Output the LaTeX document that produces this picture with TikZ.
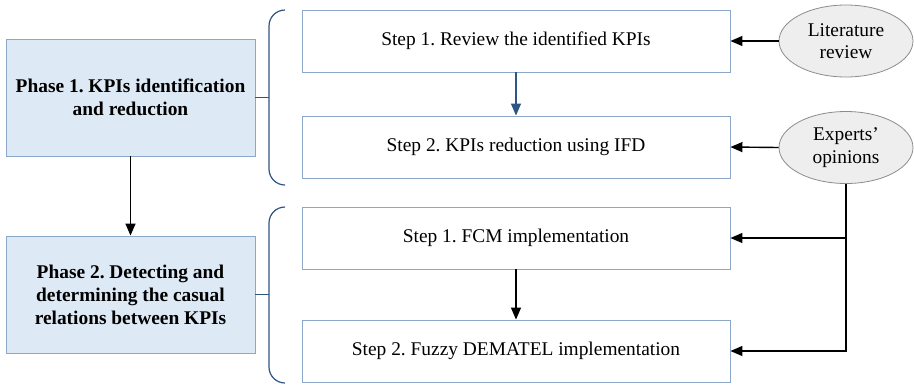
\documentclass[tikz,border=0pt]{standalone}
\usepackage{fontspec}
\setmainfont{Liberation Serif}
\usetikzlibrary{shapes.geometric,arrows.meta}
\definecolor{phasefill}{RGB}{222,233,246}
\definecolor{boxedge}{RGB}{140,168,200}
\definecolor{bracecol}{RGB}{47,85,130}
\definecolor{ellfill}{RGB}{238,238,238}
\definecolor{elledge}{RGB}{140,140,140}
\tikzset{
  phasebox/.style={draw=boxedge, fill=phasefill, line width=0.9pt, minimum width=249pt, minimum height=117pt, inner sep=0pt, align=center, font=\fontsize{19.4}{23}\selectfont\bfseries},
  stepbox/.style={draw=boxedge, fill=white, line width=0.9pt, minimum width=428pt, minimum height=62pt, inner sep=0pt, align=center, font=\fontsize{19.4}{23}\selectfont},
  srcell/.style={ellipse, draw=elledge, fill=ellfill, line width=0.8pt, minimum width=134pt, minimum height=72pt, inner sep=0pt, align=center, font=\fontsize{19.4}{22.5}\selectfont},
  conn/.style={line width=1.4pt, -{Triangle[length=12pt,width=10pt]}},
  bracepath/.style={draw=bracecol, line width=1.2pt, rounded corners=16pt},
}
\begin{document}
\frenchspacing
\begin{tikzpicture}[x=1pt,y=-1pt]
\useasboundingbox (0,0) rectangle (914,384);
\node[phasebox] (p1) at (130.5,97.5) {Phase 1. KPIs identification\\and reduction};
\node[phasebox] (p2) at (130.5,294.5) {Phase 2. Detecting and\\determining the casual\\relations between KPIs};
\node[stepbox] (s1) at (516,41) {Step 1. Review the identified KPIs};
\node[stepbox] (s2) at (516,147) {Step 2. KPIs reduction using IFD};
\node[stepbox] (s3) at (516,238) {Step 1. FCM implementation};
\node[stepbox] (s4) at (516,351) {Step 2. Fuzzy DEMATEL implementation};
\node[srcell] (lit) at (846,41) {Literature\\review};
\node[srcell] (exp) at (846,147.5) {Experts'\\opinions};
% braces
\draw[bracepath] (285,10) -- (269,10) -- (269,185) -- (285,185);
\draw[bracepath] (285,207) -- (269,207) -- (269,383) -- (285,383);
\coordinate (b1) at (269,97.5);
\coordinate (b2) at (269,294.5);
\draw[draw=bracecol, line width=1.2pt] (p1.east) -- (b1);
\draw[draw=bracecol, line width=1.2pt] (p2.east) -- (b2);
% arrows
\draw[conn] (p1.south) -- (p2.north);
\draw[conn, draw=bracecol, -{Triangle[length=12pt,width=10pt,fill=bracecol]}] (s1.south) -- (s2.north);
\draw[conn] (s3.south) -- (s4.north);
\draw[conn] (lit.west) -- (s1.east);
\draw[conn] (exp.west) -- (s2.east);
\coordinate (e1) at (846,238);
\coordinate (e2) at (846,351);
\draw[conn] (exp.south) -- (e2) -- (s4.east);
\draw[conn] (e1) -- (s3.east);
\end{tikzpicture}
\end{document}
